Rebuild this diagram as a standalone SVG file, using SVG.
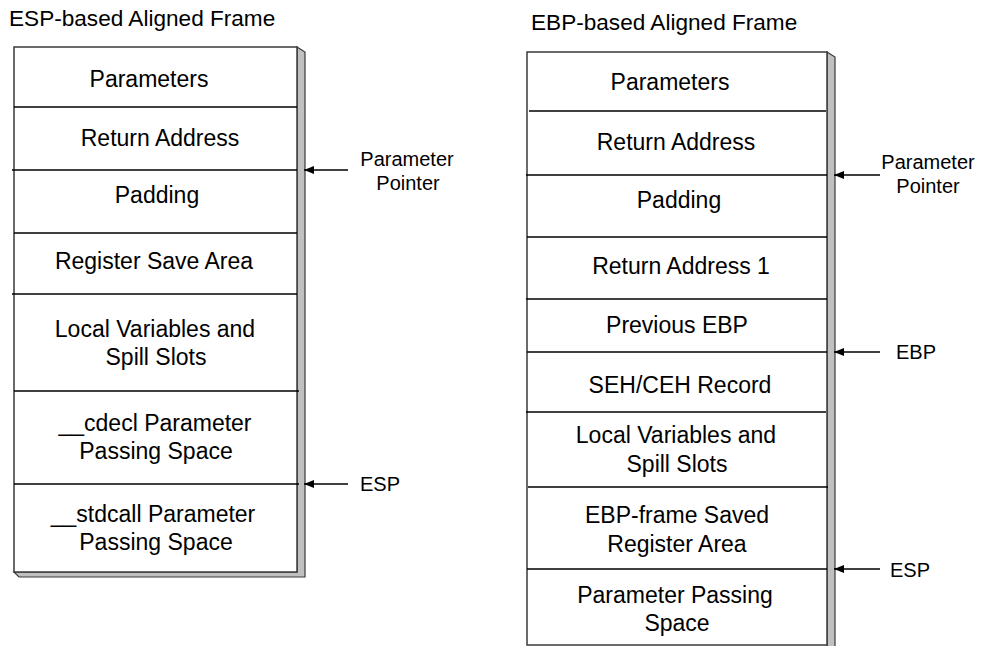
<svg xmlns="http://www.w3.org/2000/svg" width="990" height="646" viewBox="0 0 990 646">
<defs>
<marker id="ah" viewBox="0 0 10 8" refX="10" refY="4" markerWidth="10" markerHeight="8" markerUnits="userSpaceOnUse" orient="auto">
<path d="M0,0 L10,4 L0,8 Z" fill="#000"/>
</marker>
<style>
text{font-family:"Liberation Sans",Arial,sans-serif;fill:#000}
.t{font-size:23px;text-anchor:middle}
.title{font-size:22.6px}
.lbl{font-size:20px;text-anchor:middle}
.frame{fill:#fff;stroke:#3a3a3a;stroke-width:1.5}
.shadow{fill:#c0c0c0;stroke:#3a3a3a;stroke-width:1.2}
.div{stroke:#000;stroke-width:1.5}
.arr{stroke:#000;stroke-width:1.5;fill:none;marker-end:url(#ah)}
</style>
</defs>
<rect width="990" height="646" fill="#fff"/>

<text class="title" x="9" y="26">ESP-based Aligned Frame</text>
<text class="title" x="531" y="30">EBP-based Aligned Frame</text>

<g id="esp-frame">
<polygon class="shadow" points="297,47 305,52 305,577 19,577 14,572 297,572"/>
<rect class="frame" x="14" y="47" width="283" height="525"/>
<line class="div" x1="14" y1="107" x2="297" y2="107"/>
<line class="div" x1="12" y1="170" x2="297" y2="170"/>
<line class="div" x1="14" y1="233" x2="297" y2="233"/>
<line class="div" x1="12" y1="294" x2="297" y2="294"/>
<line class="div" x1="14" y1="391" x2="299" y2="391"/>
<line class="div" x1="14" y1="484" x2="299" y2="484"/>
</g>

<g id="esp-parameters"><text class="t" x="149" y="87">Parameters</text></g>
<g id="esp-return-address"><text class="t" x="160" y="146">Return Address</text></g>
<g id="esp-padding"><text class="t" x="157" y="203">Padding</text></g>
<g id="esp-register-save"><text class="t" x="154" y="269">Register Save Area</text></g>
<g id="esp-locals"><text class="t" x="155" y="337">Local Variables and</text><text class="t" x="156" y="365">Spill Slots</text></g>
<g id="esp-cdecl"><text class="t" x="155" y="431">__cdecl Parameter</text><text class="t" x="156" y="459">Passing Space</text></g>
<g id="esp-stdcall"><text class="t" x="153" y="522">__stdcall Parameter</text><text class="t" x="156" y="550">Passing Space</text></g>

<g id="ebp-frame">
<polygon class="shadow" points="827,52 835,57 835,660 827,660"/>
<rect class="frame" x="527" y="52" width="300" height="593"/>
<line class="div" x1="529" y1="111" x2="826" y2="111"/>
<line class="div" x1="526" y1="175" x2="827" y2="175"/>
<line class="div" x1="527" y1="237" x2="827" y2="237"/>
<line class="div" x1="526" y1="299" x2="827" y2="299"/>
<line class="div" x1="527" y1="352" x2="827" y2="352"/>
<line class="div" x1="526" y1="412" x2="826" y2="412"/>
<line class="div" x1="528" y1="487" x2="828" y2="487"/>
<line class="div" x1="527" y1="569" x2="827" y2="569"/>
</g>

<g id="ebp-parameters"><text class="t" x="670" y="90">Parameters</text></g>
<g id="ebp-return-address"><text class="t" x="676" y="150">Return Address</text></g>
<g id="ebp-padding"><text class="t" x="679" y="208">Padding</text></g>
<g id="ebp-return-address-1"><text class="t" x="681" y="274">Return Address 1</text></g>
<g id="ebp-previous-ebp"><text class="t" x="677" y="333">Previous EBP</text></g>
<g id="ebp-seh"><text class="t" x="680" y="393">SEH/CEH Record</text></g>
<g id="ebp-locals"><text class="t" x="676" y="443">Local Variables and</text><text class="t" x="677" y="472">Spill Slots</text></g>
<g id="ebp-saved-regs"><text class="t" x="677" y="523">EBP-frame Saved</text><text class="t" x="677" y="552">Register Area</text></g>
<g id="ebp-param-passing"><text class="t" x="675" y="603">Parameter Passing</text><text class="t" x="677" y="631">Space</text></g>

<g id="label-esp-param-pointer"><text class="lbl" x="407" y="166">Parameter</text><text class="lbl" x="408" y="190">Pointer</text></g>
<g id="label-esp-esp"><text class="lbl" x="380" y="491">ESP</text></g>
<g id="label-ebp-param-pointer"><text class="lbl" x="928" y="169">Parameter</text><text class="lbl" x="928" y="193">Pointer</text></g>
<g id="label-ebp-ebp"><text class="lbl" x="916" y="359">EBP</text></g>
<g id="label-ebp-esp"><text class="lbl" x="910" y="577">ESP</text></g>

<g id="connectors">
<line class="arr" x1="348" y1="170" x2="304" y2="170"/>
<line class="arr" x1="348" y1="484" x2="304" y2="484"/>
<line class="arr" x1="880" y1="175" x2="834" y2="175"/>
<line class="arr" x1="880" y1="352" x2="834" y2="352"/>
<line class="arr" x1="880" y1="569" x2="834" y2="569"/>
</g>
</svg>
